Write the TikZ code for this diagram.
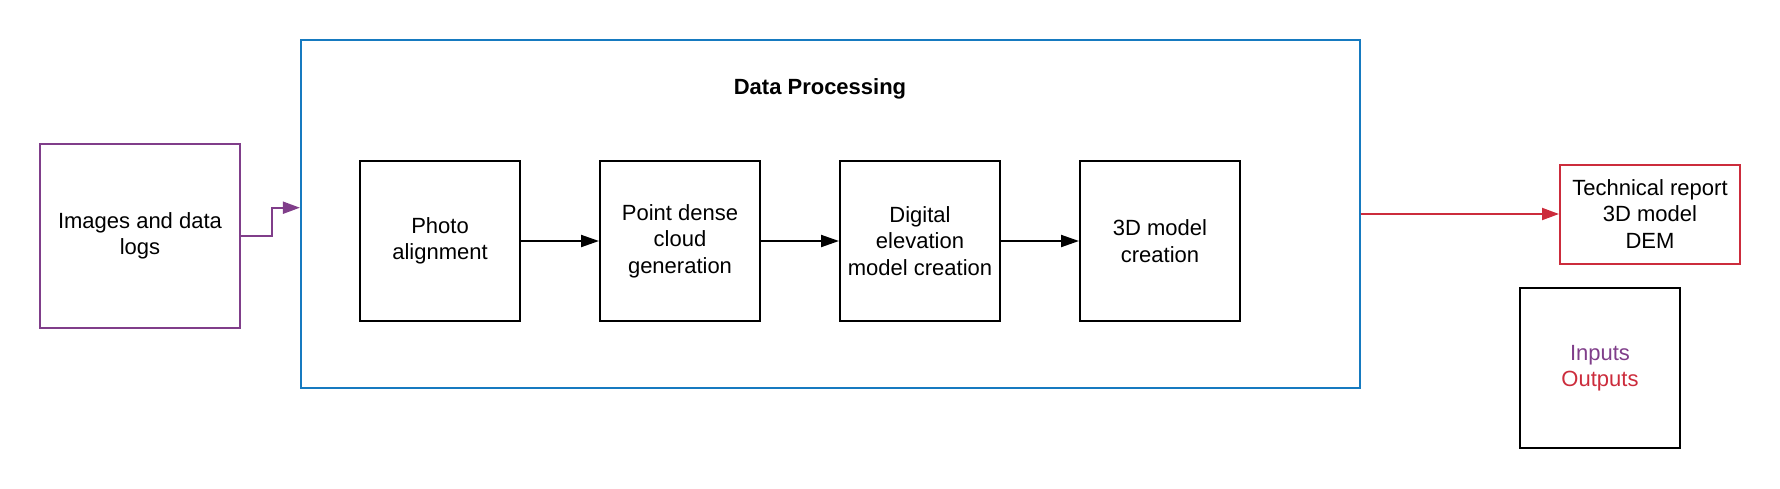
\documentclass[tikz,border=0pt]{standalone}
\usepackage{fontspec}
\setmainfont{Liberation Sans}
\usetikzlibrary{arrows.meta}
\definecolor{inpurple}{RGB}{128,62,138}
\definecolor{procblue}{RGB}{22,122,192}
\definecolor{outred}{RGB}{204,44,60}
\tikzset{
  box/.style={draw=black, line width=2pt, minimum width=160pt, minimum height=160pt, inner sep=0pt, align=center, font=\fontsize{22}{26.5}\selectfont},
  flow/.style={draw=black, line width=2pt, -{Triangle[length=18pt,width=12pt]}},
}
\begin{document}
\begin{tikzpicture}[x=1pt,y=-1pt]
\useasboundingbox (0,0) rectangle (1780,488);
% container
\node[draw=procblue, line width=2pt, minimum width=1059pt, minimum height=348pt, inner sep=0pt] (dp) at (830.4,214) {};
\node[font=\fontsize{22}{26.5}\selectfont\bfseries] (title) at (820,89) {Data Processing};
% input
\node[draw=inpurple, line width=2pt, minimum width=200pt, minimum height=184pt, inner sep=0pt, align=center, font=\fontsize{22}{26.5}\selectfont] (img) at (140,236) {Images and data\\logs};
% steps
\node[box] (photo) at (440,241) {Photo\\alignment};
\node[box] (point) at (680,241) {Point dense\\cloud\\generation};
\node[box] (dem) at (920,241) {Digital\\elevation\\model creation};
\node[box] (model) at (1160,241) {3D model\\creation};
% output
\node[draw=outred, line width=2pt, minimum width=180pt, minimum height=99pt, inner sep=0pt, align=center, font=\fontsize{22}{26.5}\selectfont] (tech) at (1650,214) {Technical report\\3D model\\DEM};
% legend
\node[box] (legend) at (1600,368) {\textcolor{inpurple}{Inputs}\\\textcolor{outred}{Outputs}};
% connectors
\draw[line width=2pt, draw=inpurple, -{Triangle[length=17pt,width=12pt,fill=inpurple]}] (img.east) -- ++(31,0) |- ([yshift=6.3pt]dp.west);
\draw[flow] (photo.east) -- (point.west);
\draw[flow] (point.east) -- (dem.west);
\draw[flow] (dem.east) -- (model.west);
\draw[line width=2pt, draw=outred, -{Triangle[length=17pt,width=12pt,fill=outred]}] (dp.east) -- (tech.west);
\end{tikzpicture}
\end{document}
